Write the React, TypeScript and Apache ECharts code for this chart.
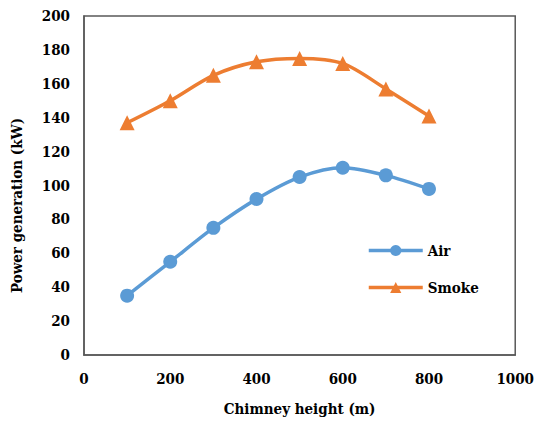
import React, { useEffect, useRef } from "react";
import * as echarts from "echarts";

const heights = [100, 200, 300, 400, 500, 600, 700, 800];
const airValues = [35, 55, 75, 92, 105, 110.5, 106, 98];
const smokeValues = [137, 150, 165, 173, 175, 172, 157, 141];

export default function App() {
  const ref = useRef<HTMLDivElement>(null);
  useEffect(() => {
    const chart = echarts.init(ref.current!, null, { renderer: "svg" });
    const font = "DejaVu Serif Condensed, DejaVu Serif";
    chart.setOption({
      animation: false,
      textStyle: { fontFamily: font },
      grid: {
        left: 84,
        top: 16,
        right: 20,
        bottom: 65,
        show: true,
        borderColor: "#595959",
        borderWidth: 1.5,
      },
      legend: {
        orient: "vertical",
        left: 362,
        top: 238,
        itemWidth: 54,
        itemHeight: 14,
        itemGap: 22,
        lineStyle: { width: 3.5 },
        textStyle: { fontFamily: font, fontWeight: "bold", fontSize: 15, color: "#000" },
        data: ["Air", "Smoke"],
      },
      xAxis: {
        type: "value",
        min: 0,
        max: 1000,
        interval: 200,
        name: "Chimney height (m)",
        nameLocation: "middle",
        nameGap: 46,
        nameTextStyle: { fontFamily: font, fontWeight: "bold", fontSize: 15, color: "#000" },
        axisLine: { show: true, lineStyle: { color: "#595959", width: 1.5 } },
        axisTick: { show: false },
        splitLine: { show: false },
        axisLabel: {
          fontFamily: font,
          fontWeight: "bold",
          fontSize: 15,
          color: "#000",
          margin: 16,
          formatter: (v: number) => String(v),
        },
      },
      yAxis: {
        type: "value",
        min: 0,
        max: 200,
        interval: 20,
        name: "Power generation (kW)",
        nameLocation: "middle",
        nameGap: 60,
        nameTextStyle: {
          fontFamily: font,
          fontWeight: "bold",
          fontSize: 15,
          color: "#000",
          padding: [0, 40, 0, 0],
        },
        axisLine: { show: true, lineStyle: { color: "#595959", width: 1.5 } },
        axisTick: { show: false },
        splitLine: { show: false },
        axisLabel: { fontFamily: font, fontWeight: "bold", fontSize: 15, color: "#000", margin: 14 },
      },
      series: [
        {
          name: "Air",
          type: "line",
          smooth: 0.3,
          data: heights.map((h, i) => [h, airValues[i]]),
          symbol: "circle",
          symbolSize: 14,
          itemStyle: { color: "#5B9BD5" },
          lineStyle: { color: "#5B9BD5", width: 3.5 },
        },
        {
          name: "Smoke",
          type: "line",
          smooth: 0.3,
          data: heights.map((h, i) => [h, smokeValues[i]]),
          symbol: "triangle",
          symbolSize: 15,
          itemStyle: { color: "#ED7D31" },
          lineStyle: { color: "#ED7D31", width: 3.5 },
        },
      ],
    });
    return () => chart.dispose();
  }, []);
  return <div ref={ref} style={{ width: 537, height: 421, position: "absolute", left: 0, top: 0 }} />;
}
